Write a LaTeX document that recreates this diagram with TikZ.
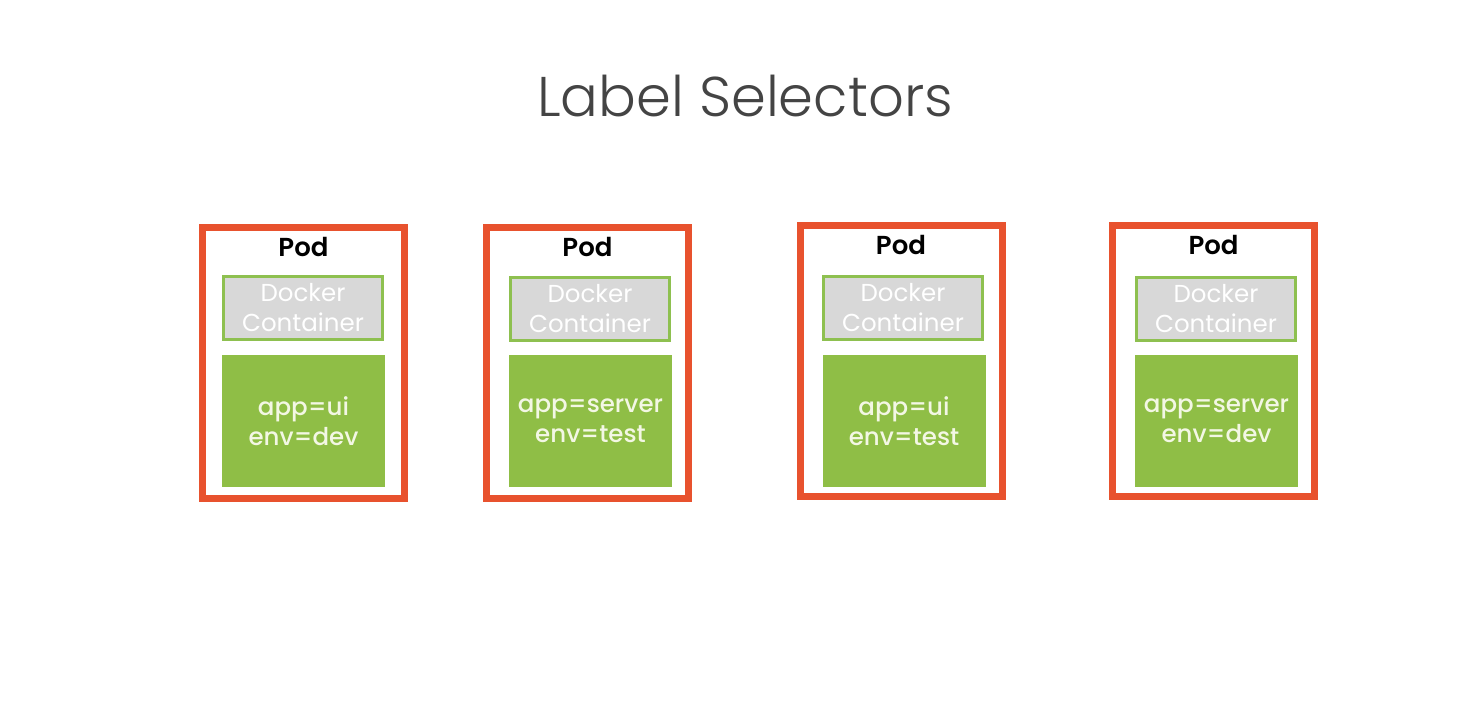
\documentclass[tikz,border=0pt]{standalone}
\usepackage{fontspec}
\setmainfont{Poppins}
\newfontfamily\titlefont{Poppins}[UprightFont=* Light]
\newfontfamily\medfont{Poppins}[UprightFont=* Medium]
\newfontfamily\semifont{Poppins}[UprightFont=* SemiBold]
\definecolor{podred}{HTML}{E8522E}
\definecolor{lblgreen}{HTML}{8FBE46}
\definecolor{dockgray}{HTML}{D8D8D8}
\definecolor{dockedge}{HTML}{8EC050}
\definecolor{titlegray}{HTML}{444444}
\definecolor{lbltext}{HTML}{F3F7E4}
\tikzset{
  podbox/.style={draw=podred, line width=7pt, minimum width=202pt, minimum height=271pt, inner sep=0pt},
  podtitle/.style={font=\semifont\fontsize{26}{28}\selectfont, text=black, inner sep=0pt},
  dockbox/.style={draw=dockedge, fill=dockgray, line width=3pt, minimum width=159pt, minimum height=63pt, inner sep=0pt, text=white, align=center, font=\fontsize{24.5}{30}\selectfont},
  lblbox/.style={fill=lblgreen, minimum width=163pt, minimum height=132pt, inner sep=0pt, text=lbltext, align=center, font=\medfont\fontsize{24.5}{30}\selectfont}
}
\begin{document}
\begin{tikzpicture}[x=1pt,y=-1pt]
\useasboundingbox (0,0) rectangle (1483,718);
\node[font=\titlefont\fontsize{56}{60}\selectfont, text=titlegray, inner sep=0pt] (title) at (745,96) {Label Selectors};
% pod 1
\node[podbox] (pod1) at (303.5,363) {};
\node[podtitle] (pod1t) at (303.5,247) {Pod};
\node[dockbox] (dock1) at (303,308) {Docker\\Container};
\node[lblbox] (lbl1) at (303.5,421) {app=ui\\env=dev};
% pod 2
\node[podbox] (pod2) at (587.5,363) {};
\node[podtitle] (pod2t) at (587.5,247) {Pod};
\node[dockbox] (dock2) at (590,309) {Docker\\Container};
\node[lblbox] (lbl2) at (590.5,421) {app=server\\env=test};
% pod 3
\node[podbox] (pod3) at (901,361) {};
\node[podtitle] (pod3t) at (901,245) {Pod};
\node[dockbox] (dock3) at (903,308) {Docker\\Container};
\node[lblbox] (lbl3) at (904,421) {app=ui\\env=test};
% pod 4
\node[podbox] (pod4) at (1213.5,361) {};
\node[podtitle] (pod4t) at (1213.5,245) {Pod};
\node[dockbox] (dock4) at (1216,309) {Docker\\Container};
\node[lblbox] (lbl4) at (1216.5,421) {app=server\\env=dev};
\end{tikzpicture}
\end{document}
